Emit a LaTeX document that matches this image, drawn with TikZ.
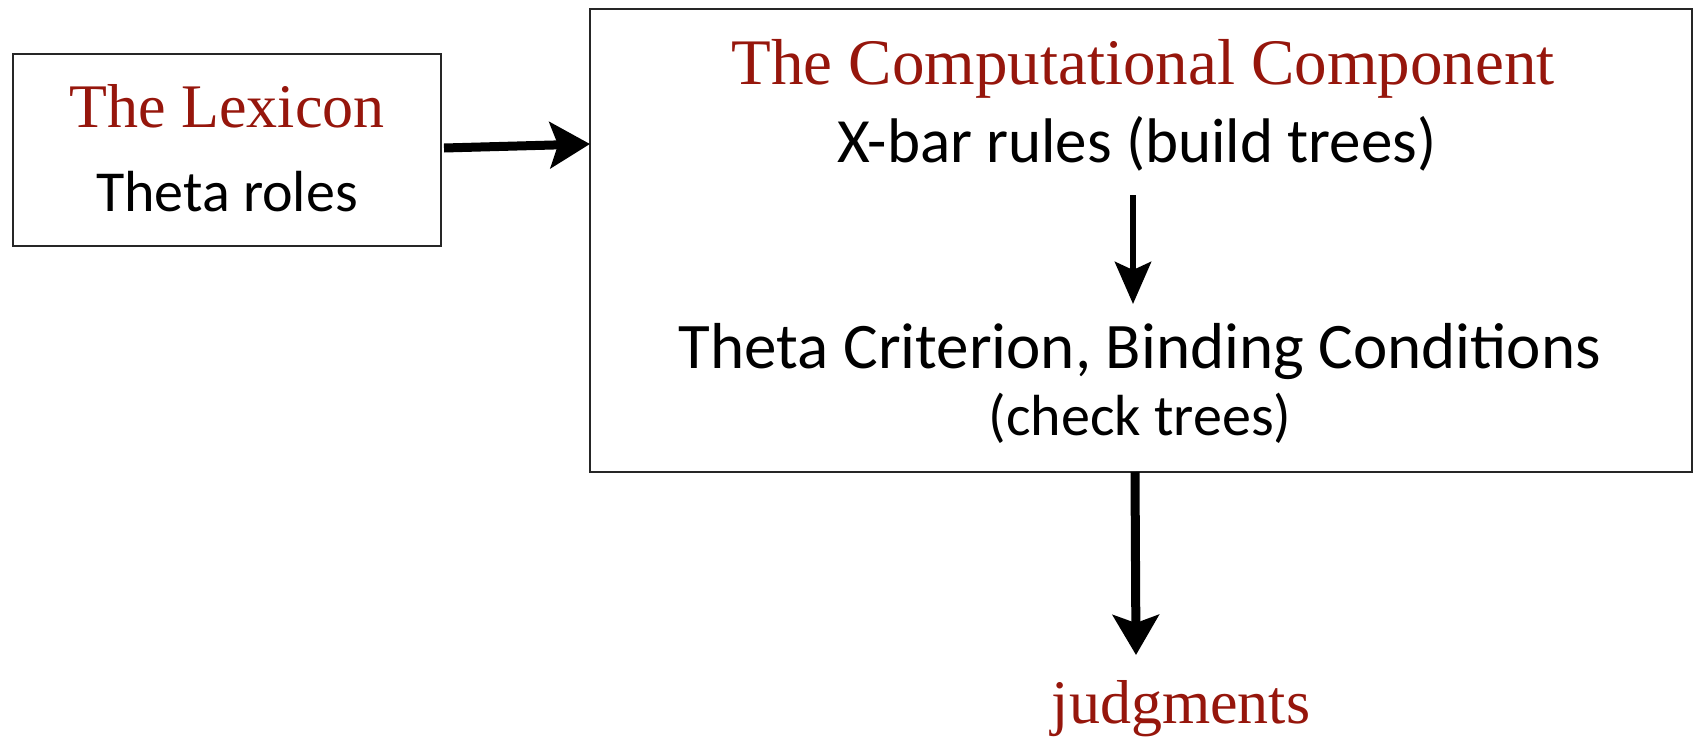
\documentclass[tikz,border=0pt]{standalone}
\usepackage{fontspec}
\setmainfont{Liberation Serif}
\newfontfamily\hand{Carlito}
\usetikzlibrary{arrows.meta}
\definecolor{titlered}{RGB}{150,22,12}
\tikzset{
  box/.style={draw=black!85, line width=1.3pt, fill=white},
  ttl/.style={text=titlered, font=\fontsize{31}{36}\selectfont, anchor=base, inner sep=0pt},
  hw/.style={text=black, font=\hand\fontsize{29}{34}\selectfont, anchor=base, inner sep=0pt},
  bigarr/.style={line width=4.5pt, -{Stealth[length=20pt,width=23pt,inset=4pt]}},
  midarr/.style={line width=3.2pt, -{Stealth[length=21pt,width=18pt,inset=4pt]}}
}
\begin{document}
\begin{tikzpicture}[x=0.5pt,y=-0.5pt]
\useasboundingbox (0,0) rectangle (1698,750);
\node[box, minimum width=214pt, minimum height=96pt] (lex) at (227,150) {};
\node[box, minimum width=551pt, minimum height=231.5pt] (comp) at (1141,240.5) {};
\node[ttl] (lext) at (227,127) {The Lexicon};
\node[hw] (lexr) at (227,211) {Theta roles};
\node[ttl, font=\fontsize{32.5}{38}\selectfont] (compt) at (1143,84) {The Computational Component};
\node[hw, font=\hand\fontsize{31.5}{36}\selectfont] (xbar) at (1137,162) {X-bar rules (build trees)};
\node[hw, font=\hand\fontsize{32.5}{38}\selectfont] (theta) at (1140,368) {Theta Criterion, Binding Conditions};
\node[hw] (check) at (1140,435) {(check trees)};
\node[ttl] (judg) at (1181,723) {judgments};
\coordinate (a1s) at (444,148);
\coordinate (a1e) at (590,144);
\coordinate (a2s) at (1133,195);
\coordinate (a2e) at (1133,304);
\coordinate (a3s) at (1135,472);
\coordinate (a3e) at (1136,655);
\draw[bigarr] (a1s) -- (a1e);
\draw[midarr] (a2s) -- (a2e);
\draw[bigarr] (a3s) -- (a3e);
\end{tikzpicture}
\end{document}
